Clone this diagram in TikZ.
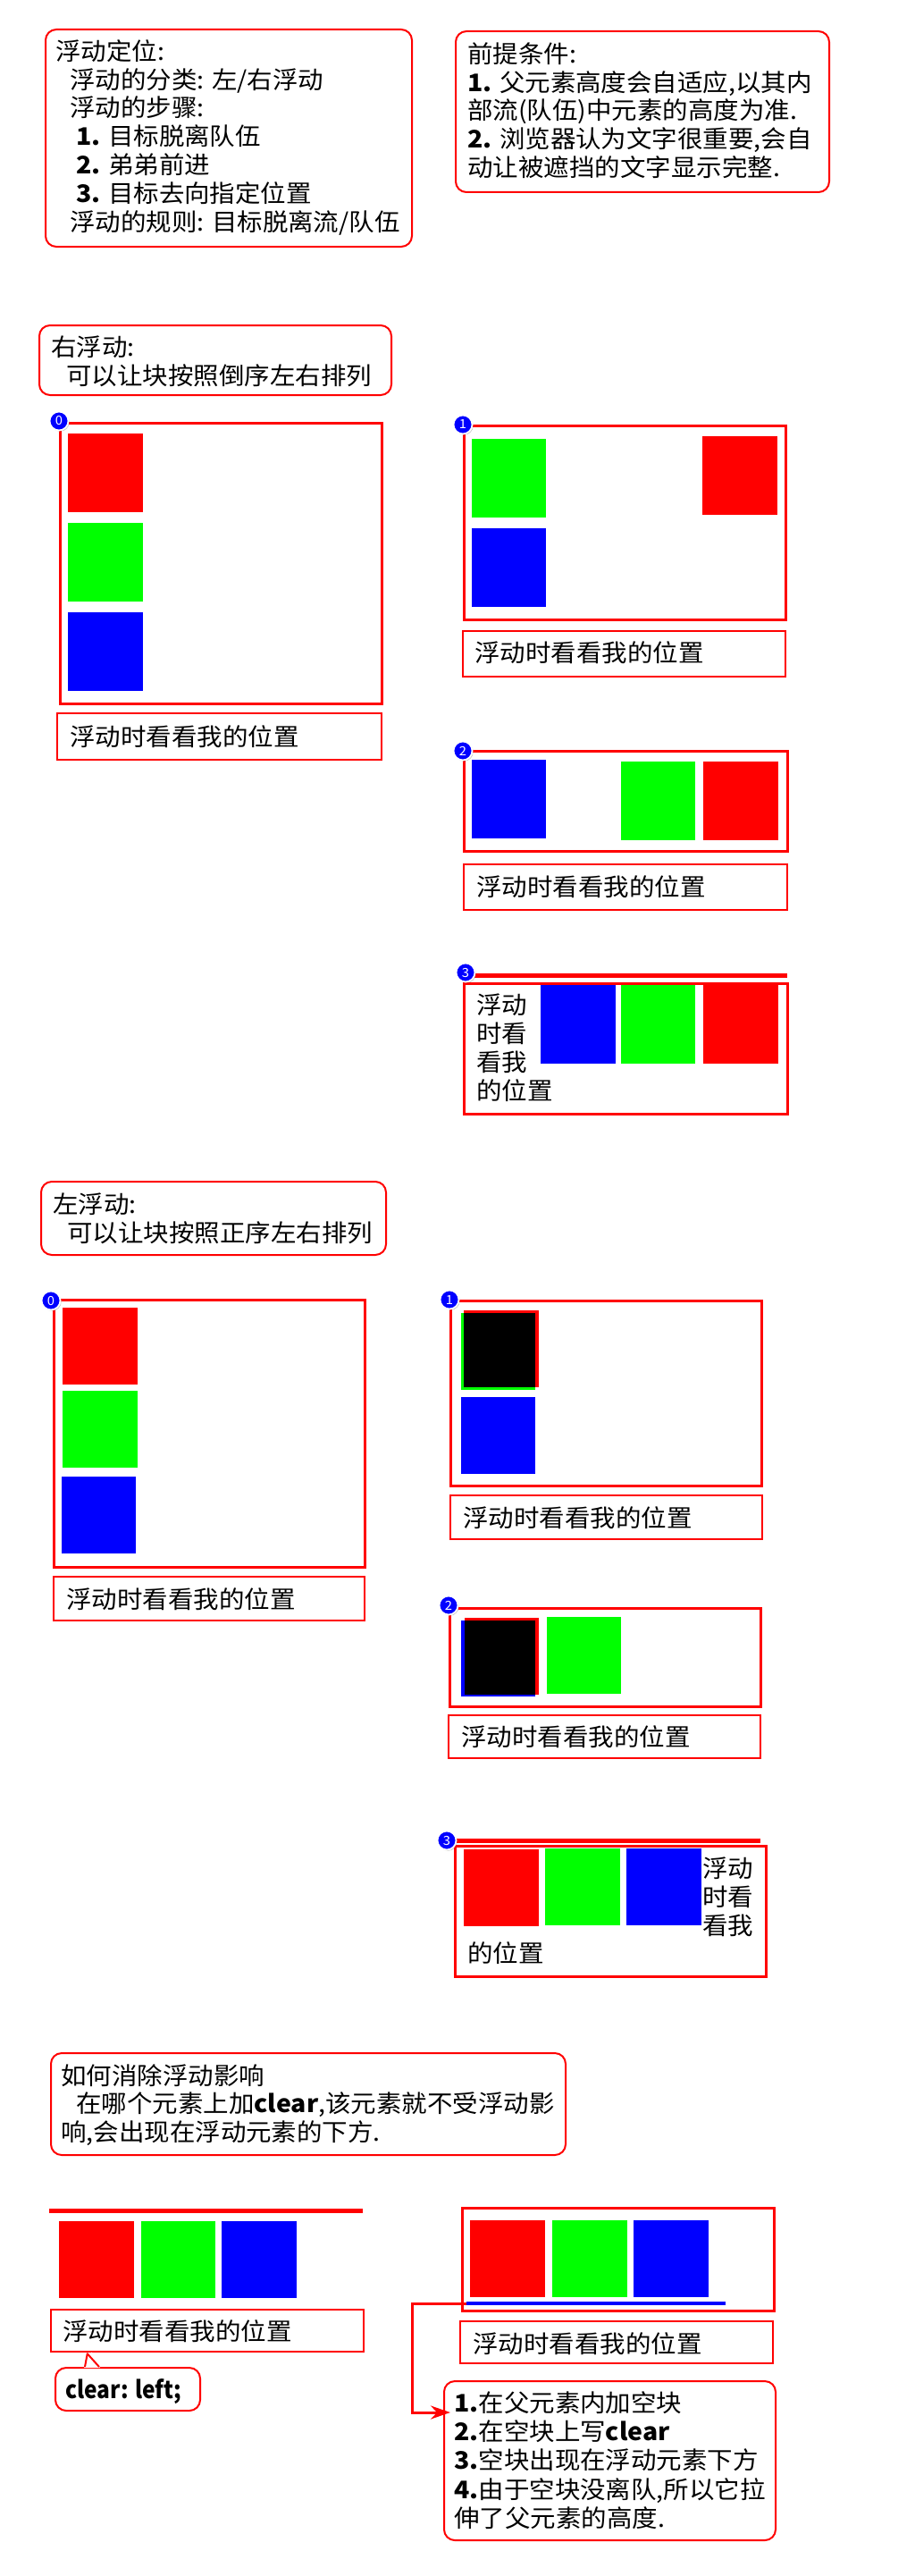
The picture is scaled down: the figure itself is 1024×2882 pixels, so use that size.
\documentclass[tikz,border=0pt]{standalone}
\usepackage{fontspec}
\usepackage{graphicx}
\setmainfont{Noto Sans CJK SC}[FakeStretch=1.055]
\usetikzlibrary{fit,shadows,arrows.meta}
\newcommand\boxat[4]{\node[#1, fit={(#3)(#4)}] (#2) {};}
\tikzset{
  roundbox/.style={draw=red, line width=2pt, rounded corners=12pt, inner sep=0pt},
  contbox/.style={draw=red, line width=3pt, inner sep=0pt},
  capbox/.style={draw=red, line width=2.5pt, inner sep=0pt},
  blockfill/.style={draw=none, inner sep=0pt},
  badgenode/.style={circle, fill=blue, draw=white, line width=1.8pt, minimum size=21pt, inner sep=0pt, text=white, font=\fontsize{14}{14}\selectfont, drop shadow={opacity=0.45, shadow xshift=1.2pt, shadow yshift=-1.2pt}},
  txtnode/.style={anchor=base west, inner sep=0pt, align=left, font=\fontsize{27}{31.8}\selectfont},
  connline/.style={draw=red, line width=3pt, -{Stealth[length=22pt,width=15pt]}},
}
\begin{document}
\begin{tikzpicture}[x=1pt,y=-1pt]
\fill[white] (0,0) rectangle (1024,2882);
\useasboundingbox (0,0) rectangle (1024,2882);

% ---------- top boxes ----------
\boxat{roundbox}{boxA}{51,33}{461,276}
\node[txtnode] (tA) at (62,258.1) {浮动定位:\\
\hspace*{16pt}浮动的分类: 左/右浮动\\
\hspace*{16pt}浮动的步骤:\\
\hspace*{23pt}\textbf{1.} 目标脱离队伍\\
\hspace*{23pt}\textbf{2.} 弟弟前进\\
\hspace*{23pt}\textbf{3.} 目标去向指定位置\\
\hspace*{16pt}浮动的规则: 目标脱离流/队伍};

\boxat{roundbox}{boxB}{510,35}{928,215}
\node[txtnode] (tB) at (523,197.5) {前提条件:\\
\textbf{1.} 父元素高度会自适应,以其内\\
部流(队伍)中元素的高度为准.\\
\textbf{2.} 浏览器认为文字很重要,会自\\
动让被遮挡的文字显示完整.};

% ---------- right float ----------
\boxat{roundbox}{hR}{44,364}{438,442}
\node[txtnode, font=\fontsize{27}{32}\selectfont] (thR) at (57,430.3) {右浮动:\\
\hspace*{17pt}可以让块按照倒序左右排列};

% R0
\boxat{contbox}{r0}{67,473}{427,787}
\boxat{blockfill, fill=red}{r0a}{76,485}{160,573}
\boxat{blockfill, fill=green}{r0b}{76,585}{160,673}
\boxat{blockfill, fill=blue}{r0c}{76,685}{160,773}
\boxat{capbox}{r0cap}{64,798}{427,850}
\node[txtnode] (r0t) at (78,834.3) {浮动时看看我的位置};

% R1
\boxat{contbox}{r1}{519,476}{879,693}
\boxat{blockfill, fill=green}{r1b}{528,491}{611,579}
\boxat{blockfill, fill=red}{r1a}{786,488}{870,576}
\boxat{blockfill, fill=blue}{r1c}{528,591}{611,679}
\boxat{capbox}{r1cap}{518,706}{879,757}
\node[txtnode] (r1t) at (531,740.3) {浮动时看看我的位置};

% R2
\boxat{contbox}{r2}{519,840}{881,952}
\boxat{blockfill, fill=blue}{r2c}{528,850}{611,938}
\boxat{blockfill, fill=green}{r2b}{695,852}{778,940}
\boxat{blockfill, fill=red}{r2a}{787,852}{871,940}
\boxat{capbox}{r2cap}{519,967}{881,1018}
\node[txtnode] (r2t) at (533,1002.3) {浮动时看看我的位置};

% R3
\boxat{blockfill, fill=red}{r3bar}{528,1089}{881,1094}
\boxat{contbox}{r3}{519,1100}{881,1246}
\boxat{blockfill, fill=blue}{r3c}{605,1102}{689,1190}
\boxat{blockfill, fill=green}{r3b}{695,1102}{778,1190}
\boxat{blockfill, fill=red}{r3a}{787,1102}{871,1190}
\node[txtnode, font=\fontsize{27}{32}\selectfont] (r3t) at (533,1230.3) {浮动\\时看\\看我\\的位置};

% ---------- left float ----------
\boxat{roundbox}{hL}{46,1322}{432,1404}
\node[txtnode, font=\fontsize{27}{32}\selectfont] (thL) at (59,1389.3) {左浮动:\\
\hspace*{16pt}可以让块按照正序左右排列};

% L0
\boxat{contbox}{l0}{60,1454}{408,1753}
\boxat{blockfill, fill=red}{l0a}{70,1463}{154,1549}
\boxat{blockfill, fill=green}{l0b}{70,1556}{154,1642}
\boxat{blockfill, fill=blue}{l0c}{69,1652}{152,1738}
\boxat{capbox}{l0cap}{60,1764}{408,1813}
\node[txtnode] (l0t) at (74,1799.3) {浮动时看看我的位置};

% L1
\boxat{contbox}{l1}{504,1455}{852,1662}
\boxat{blockfill, fill=green}{l1b}{516,1469}{599,1555}
\boxat{blockfill, fill=red}{l1a}{519,1466}{603,1552}
\boxat{blockfill, fill=black}{l1k}{519,1469}{599,1552}
\boxat{blockfill, fill=blue}{l1c}{516,1563}{599,1649}
\boxat{capbox}{l1cap}{504,1673}{853,1722}
\node[txtnode] (l1t) at (518,1708.3) {浮动时看看我的位置};

% L2
\boxat{contbox}{l2}{503,1799}{851,1909}
\boxat{blockfill, fill=blue}{l2c}{516,1813}{599,1898}
\boxat{blockfill, fill=red}{l2a}{520,1810}{603,1896}
\boxat{blockfill, fill=black}{l2k}{520,1813}{599,1896}
\boxat{blockfill, fill=green}{l2b}{612,1809}{695,1895}
\boxat{capbox}{l2cap}{502,1919}{851,1967}
\node[txtnode] (l2t) at (516,1953.3) {浮动时看看我的位置};

% L3
\boxat{blockfill, fill=red}{l3bar}{511,2057}{851,2062}
\boxat{contbox}{l3}{509,2065}{857,2211}
\boxat{blockfill, fill=red}{l3a}{519,2069}{603,2155}
\boxat{blockfill, fill=green}{l3b}{610,2068}{694,2154}
\boxat{blockfill, fill=blue}{l3c}{701,2068}{785,2154}
\node[txtnode, font=\fontsize{27}{32}\selectfont] (l3t) at (786,2164.3) {浮动\\时看\\看我};
\node[txtnode] (l3t2) at (523,2195.3) {的位置};

% ---------- clear ----------
\boxat{roundbox}{hC}{57,2297}{633,2411}
\node[txtnode, font=\fontsize{27}{31.5}\selectfont] (thC) at (68,2395.3) {如何消除浮动影响\\
\hspace*{17pt}在哪个元素上加\textbf{clear},该元素就不受浮动影\\
响,会出现在浮动元素的下方.};

% left example
\boxat{blockfill, fill=red}{cbar}{55,2471}{406,2476}
\boxat{blockfill, fill=red}{ca}{66,2485}{150,2571}
\boxat{blockfill, fill=green}{cb}{158,2485}{241,2571}
\boxat{blockfill, fill=blue}{cc}{248,2485}{332,2571}
\boxat{capbox}{ccap}{57,2584}{407,2631}
\node[txtnode] (ct) at (70,2618.3) {浮动时看看我的位置};
\boxat{roundbox}{callout}{62,2649}{224,2697}
\fill[white] ([xshift=33pt,yshift=-1pt]callout.north west) -- ([xshift=47pt,yshift=1pt]ccap.south west) -- ([xshift=51pt,yshift=-1pt]callout.north west) -- cycle;
\draw[red, line width=2pt, line join=round] ([xshift=34pt]callout.north west) -- ([xshift=42pt,yshift=-1pt]ccap.south west) -- ([xshift=50pt]callout.north west);
\node[txtnode, font=\bfseries\fontsize{27}{32}\selectfont] (cot) at (73,2683) {\scalebox{0.86}[1]{clear: left;}};

% right example
\boxat{contbox}{d}{517,2470}{866,2585}
\boxat{blockfill, fill=red}{da}{526,2484}{610,2570}
\boxat{blockfill, fill=green}{db}{618,2484}{702,2570}
\boxat{blockfill, fill=blue}{dc}{709,2484}{793,2570}
\boxat{blockfill, fill=blue}{blueline}{522,2575}{812,2579}
\boxat{capbox}{dcap}{515,2597}{865,2644}
\node[txtnode] (dt) at (529,2632.3) {浮动时看看我的位置};
\boxat{roundbox}{steps}{497,2664}{868,2842}
\node[txtnode, font=\fontsize{27}{32.25}\selectfont] (st) at (508,2827.3) {\textbf{1.}在父元素内加空块\\
\textbf{2.}在空块上写\textbf{clear}\\
\textbf{3.}空块出现在浮动元素下方\\
\textbf{4.}由于空块没离队,所以它拉\\
伸了父元素的高度.};
\coordinate (bend) at (461,2577);
\draw[connline] (blueline.west) -- (bend) |- ([xshift=8pt,yshift=-36pt]steps.north west);

% ---------- badges ----------
\node[badgenode] (b0) at (66,471) {0};
\node[badgenode] (b1) at (518,475) {1};
\node[badgenode] (b2) at (518,840) {2};
\node[badgenode] (b3) at (521,1088) {3};
\node[badgenode] (c0) at (57,1455) {0};
\node[badgenode] (c1) at (503,1454) {1};
\node[badgenode] (c2) at (502,1796) {2};
\node[badgenode] (c3) at (500,2059) {3};
\end{tikzpicture}
\end{document}
